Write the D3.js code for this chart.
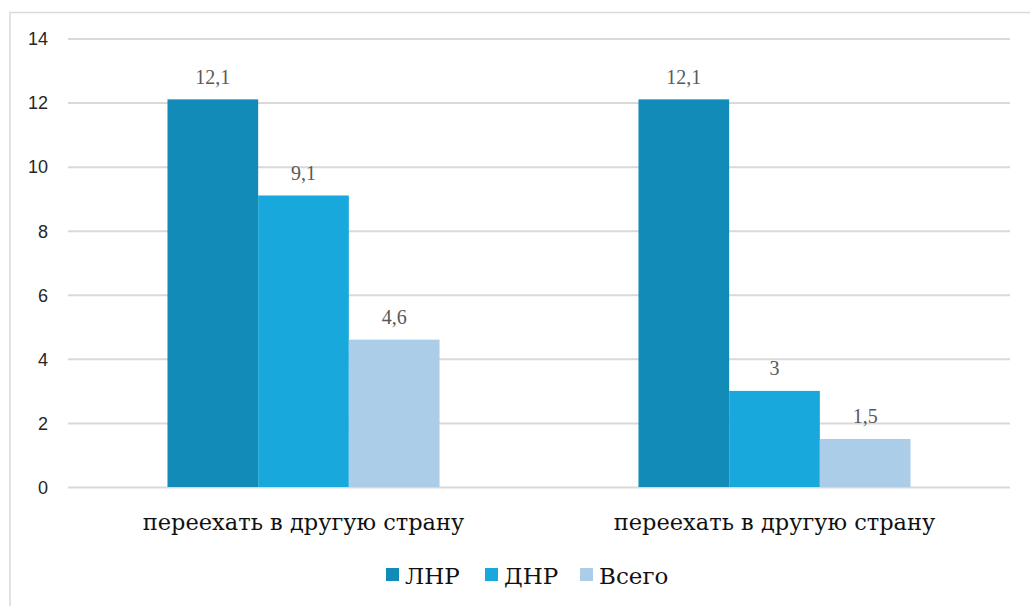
<!DOCTYPE html>
<html>
<head>
  <meta charset="utf-8">
  <style>
    body { margin: 0; background: #fff; }
    .grid line { stroke: #d9d9d9; stroke-width: 2; }
    .grid path { display: none; }
    .axis--y path, .axis--y line { display: none; }
    .axis--x path, .axis--x line { display: none; }
  </style>
  <script src="https://d3js.org/d3.v7.min.js"></script>
</head>
<body>
<script>
  var categories = ["переехать в другую страну", "переехать в другую страну "];
  var series = ["ЛНР", "ДНР", "Всего"];
  var colors = ["#128bb8", "#19a8db", "#abcde8"];
  var valuesLNR = [12.1, 12.1];
  var valuesDNR = [9.1, 3];
  var valuesAll = [4.6, 1.5];
  var yTicks = [0, 2, 4, 6, 8, 10, 12, 14];

  var seriesValues = [valuesLNR, valuesDNR, valuesAll];

  // only DejaVu Serif has serif Cyrillic glyphs in this sandbox
  var cyrSerif = "'DejaVu Serif', serif";
  var numSerif = "'Liberation Serif', 'Times New Roman', serif";
  var sans = "'Liberation Sans', Arial, sans-serif";

  var width = 1030, height = 606;
  var margin = {top: 38.5, left: 68, right: 20, bottom: 119};
  var plotW = width - margin.left - margin.right,
      plotH = height - margin.top - margin.bottom;

  var svg = d3.select("body").append("svg")
      .attr("width", width)
      .attr("height", height);

  // chart frame
  svg.append("rect")
      .attr("x", 10).attr("y", 12.5)
      .attr("width", 1030).attr("height", 610)
      .attr("fill", "none")
      .attr("stroke", "#d9d9d9")
      .attr("stroke-width", 1.5);

  var x0 = d3.scaleBand()
      .domain(categories)
      .range([0, plotW])
      .padding(0);

  var x1 = d3.scaleBand()
      .domain(series)
      .range([0, x0.bandwidth()])
      .paddingInner(0)
      .paddingOuter(1.097);

  var y = d3.scaleLinear()
      .domain([0, 14])
      .range([plotH, 0]);

  var g = svg.append("g")
      .attr("transform", "translate(" + margin.left + "," + margin.top + ")");

  // gridlines
  g.append("g")
      .attr("class", "grid")
      .call(d3.axisLeft(y).tickValues(yTicks).tickSize(-plotW).tickFormat(""));

  // axis-y
  g.append("g")
      .attr("class", "axis axis--y")
      .attr("transform", "translate(-20,0)")
      .call(d3.axisLeft(y).tickValues(yTicks).tickSize(0).tickPadding(0))
      .selectAll("text")
      .attr("dy", "0.35em")
      .style("font-family", sans)
      .style("font-size", "18px")
      .style("fill", "#262626");

  // axis-x
  g.append("g")
      .attr("class", "axis axis--x")
      .attr("transform", "translate(0," + plotH + ")")
      .call(d3.axisBottom(x0).tickSize(0).tickPadding(27))
      .selectAll("text")
      .attr("dy", "0.71em")
      .style("font-family", cyrSerif)
      .style("font-size", "22.5px")
      .style("fill", "#111")
      .text(function(d) { return d.trim(); });

  var rows = categories.map(function(c, i) {
    return series.map(function(s, j) {
      return {cat: c, key: s, value: seriesValues[j][i], color: colors[j]};
    });
  });

  var group = g.selectAll(".group")
      .data(rows)
      .enter().append("g")
      .attr("class", "group")
      .attr("transform", function(d) { return "translate(" + x0(d[0].cat) + ",0)"; });

  group.selectAll("rect")
      .data(function(d) { return d; })
      .enter().append("rect")
      .attr("x", function(d) { return x1(d.key); })
      .attr("y", function(d) { return y(d.value); })
      .attr("width", x1.bandwidth())
      .attr("height", function(d) { return plotH - y(d.value); })
      .attr("fill", function(d) { return d.color; });

  group.selectAll(".value")
      .data(function(d) { return d; })
      .enter().append("text")
      .attr("class", "value")
      .attr("text-anchor", "middle")
      .attr("x", function(d) { return x1(d.key) + x1.bandwidth() / 2; })
      .attr("y", function(d) { return y(d.value) - 15.5; })
      .style("font-family", numSerif)
      .style("font-size", "20px")
      .style("fill", "#595959")
      .text(function(d) { return String(d.value).replace(".", ","); });

  // legend
  var legendX = [386, 485, 580];
  var legend = svg.append("g").attr("class", "legend");
  var item = legend.selectAll("g")
      .data(series)
      .enter().append("g")
      .attr("transform", function(d, i) { return "translate(" + legendX[i] + ",568)"; });
  item.append("rect")
      .attr("width", 13).attr("height", 13)
      .attr("fill", function(d, i) { return colors[i]; });
  item.append("text")
      .attr("x", 19).attr("y", 8).attr("dy", "0.35em")
      .style("font-family", cyrSerif)
      .style("font-size", "23px")
      .style("fill", "#111")
      .text(function(d) { return d; });
</script>
</body>
</html>
